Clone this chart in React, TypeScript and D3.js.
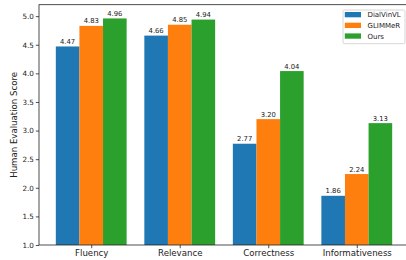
import React, { useRef, useEffect } from "react";
import * as d3 from "d3";

const categories = ["Fluency", "Relevance", "Correctness", "Informativeness"];
const seriesNames = ["DialVinVL", "GLIMMeR", "Ours"];
const dialVinVL = [4.47, 4.66, 2.77, 1.86];
const glimmer = [4.83, 4.85, 3.2, 2.24];
const ours = [4.96, 4.94, 4.04, 3.13];
const yTicks = [1.0, 1.5, 2.0, 2.5, 3.0, 3.5, 4.0, 4.5, 5.0];
const colors = ["#1f77b4", "#ff7f0e", "#2ca02c"];

const App = () => {
  const ref = useRef<SVGSVGElement>(null);

  useEffect(() => {
    const svg = d3.select(ref.current);
    svg.selectAll("*").remove();

    const W = 406;
    const H = 260;
    const margin = { top: 4.7, right: -3, bottom: 15, left: 39 };
    const font = "DejaVu Sans";
    const series = [dialVinVL, glimmer, ours];

    const w = 0.8 / 3;
    const span = categories.length - 1 + 3 * w;
    const pad = 0.05 * span;
    const x = d3
      .scaleLinear()
      .domain([-1.5 * w - pad, categories.length - 1 + 1.5 * w + pad])
      .range([margin.left, W - margin.right]);

    const y = d3
      .scaleLinear()
      .domain([1, 5.2])
      .range([H - margin.bottom, margin.top]);

    const g = svg.append("g");

    // bars + value labels
    series.forEach((vals, si) => {
      g.selectAll(`.bar${si}`)
        .data(vals)
        .enter()
        .append("rect")
        .attr("x", (d, i) => x(i + (si - 1.5) * w))
        .attr("width", x(w) - x(0))
        .attr("y", (d) => y(d))
        .attr("height", (d) => y(1) - y(d))
        .attr("fill", colors[si]);

      g.selectAll(`.lab${si}`)
        .data(vals)
        .enter()
        .append("text")
        .attr("x", (d, i) => x(i + (si - 1) * w))
        .attr("y", (d) => y(d) - 2.5)
        .attr("text-anchor", "middle")
        .style("font-family", font)
        .style("font-size", "6.8px")
        .style("fill", "#222")
        .text((d) => d.toFixed(2));
    });

    // y axis
    const yAxis = g
      .append("g")
      .attr("transform", `translate(${margin.left},0)`)
      .call(
        d3
          .axisLeft(y)
          .tickValues(yTicks)
          .tickSize(3.2)
          .tickPadding(2)
          .tickFormat((d) => d3.format(".1f")(d as number))
      );
    yAxis.select(".domain").remove();
    yAxis.selectAll("line").attr("stroke-width", 0.8).attr("stroke", "#222");
    yAxis
      .selectAll("text")
      .style("font-family", font)
      .style("font-size", "7.2px")
      .style("fill", "#222");

    // x axis
    const xAxis = g
      .append("g")
      .attr("transform", `translate(0,${H - margin.bottom})`)
      .call(
        d3
          .axisBottom(x)
          .tickValues(categories.map((c, i) => i))
          .tickSize(3.2)
          .tickPadding(2)
          .tickFormat((d) => categories[d as number])
      );
    xAxis.select(".domain").remove();
    xAxis.selectAll("line").attr("stroke-width", 0.8).attr("stroke", "#222");
    xAxis
      .selectAll("text")
      .style("font-family", font)
      .style("font-size", "8.6px")
      .style("fill", "#222");

    // frame
    g.append("rect")
      .attr("x", margin.left)
      .attr("y", margin.top)
      .attr("width", W - margin.right - margin.left)
      .attr("height", H - margin.bottom - margin.top)
      .attr("fill", "none")
      .attr("stroke", "#222")
      .attr("stroke-width", 0.8);

    // y label
    g.append("text")
      .attr("transform", `translate(16.5,${(y(1) + y(5.2)) / 2}) rotate(-90)`)
      .attr("text-anchor", "middle")
      .style("font-family", font)
      .style("font-size", "8.6px")
      .style("fill", "#222")
      .text("Human Evaluation Score");

    // legend
    const lg = g.append("g").attr("transform", "translate(343,10)");
    lg.append("rect")
      .attr("width", 62)
      .attr("height", 33.7)
      .attr("rx", 1.5)
      .attr("fill", "white")
      .attr("fill-opacity", 0.8)
      .attr("stroke", "#ccc")
      .attr("stroke-width", 0.8);
    seriesNames.forEach((name, i) => {
      lg.append("rect")
        .attr("x", 1.8)
        .attr("y", 2 + i * 10.7)
        .attr("width", 16.2)
        .attr("height", 5.3)
        .attr("fill", colors[i]);
      lg.append("text")
        .attr("x", 24.5)
        .attr("y", 7.2 + i * 10.7)
        .style("font-family", font)
        .style("font-size", "7px")
        .style("fill", "#222")
        .text(name);
    });
  }, []);

  return (
    <svg
      ref={ref}
      width={406}
      height={260}
      style={{ position: "absolute", left: 0, top: 0, background: "white" }}
    />
  );
};

export default App;
